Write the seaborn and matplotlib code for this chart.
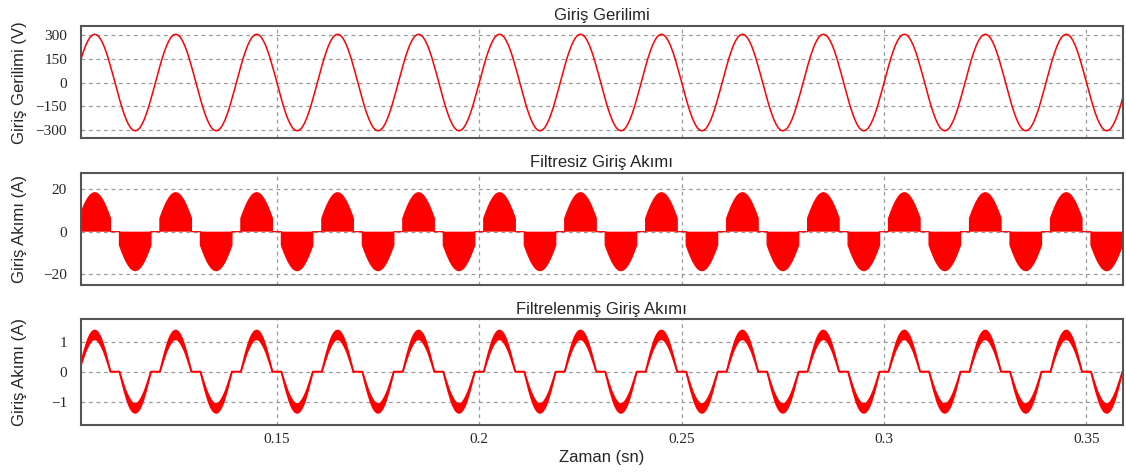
import numpy as np
import pandas as pd
import matplotlib
matplotlib.use("Agg")
import matplotlib.pyplot as plt
import seaborn as sns

# ---------------- data ----------------
period = 0.02                 # 50 Hz mains
first_peak = 0.1050           # time of the first voltage peak (s)
cycles = list(range(-1, 14))  # cycle indices covering the view

# one voltage cycle, phase -180..180 deg (step 10) around the peak
voltage_phase = list(range(-180, 181, 10))
voltage_cycle = [-305, -300, -287, -264, -234, -196, -153, -104, -53, 0,
                 53, 104, 153, 196, 234, 264, 287, 300, 305, 300, 287,
                 264, 234, 196, 153, 104, 53, 0, -53, -104, -153, -196,
                 -234, -264, -287, -300, -305]

# unfiltered current: positive lobe envelope, phase -70..70 deg (step 10)
raw_phase = list(range(-70, 71, 10))
raw_lobe = [6.3, 9.2, 11.8, 14.1, 15.9, 17.3, 18.1, 18.4, 18.1, 17.3,
            15.9, 14.1, 11.8, 9.2, 6.3]

# filtered current: positive lobe ripple band, phase -70..70 deg (step 7)
filt_phase = list(range(-70, 71, 7))
filt_upper = [0, 0.22, 0.43, 0.63, 0.81, 0.98, 1.12, 1.23, 1.31, 1.36, 1.38,
              1.36, 1.31, 1.23, 1.12, 0.98, 0.81, 0.63, 0.43, 0.22, 0]
filt_lower = [0, 0.17, 0.33, 0.49, 0.64, 0.76, 0.87, 0.96, 1.03, 1.07, 1.08,
              1.07, 1.03, 0.96, 0.87, 0.76, 0.64, 0.49, 0.33, 0.17, 0]

titles = ["Giriş Gerilimi", "Filtresiz Giriş Akımı", "Filtrelenmiş Giriş Akımı"]
ylabels = ["Giriş Gerilimi (V)", "Giriş Akımı (A)", "Giriş Akımı (A)"]
yticks = [[-300, -150, 0, 150, 300], [-20, 0, 20], [-1, 0, 1]]
ylims = [(-352, 357), (-25.2, 27.8), (-1.78, 1.75)]
xticks = [0.15, 0.2, 0.25, 0.3, 0.35]
xticklabels = ["0.15", "0.2", "0.25", "0.3", "0.35"]
xlim = (0.1016, 0.3589)
xlabel = "Zaman (sn)"

# ---------------- build series ----------------
def phase_to_t(tp, ph):
    return tp + np.asarray(ph, float) / 360.0 * period

# voltage
vt, vv = [], []
for k in cycles:
    tp = first_peak + k * period
    vt.append(phase_to_t(tp, voltage_phase[:-1]))
    vv.append(np.asarray(voltage_cycle[:-1], float))
volt = pd.DataFrame({"t": np.concatenate(vt), "v": np.concatenate(vv)})

# unfiltered current (lobes with vertical edges, zero between)
rt, rv = [], []
for k in cycles:
    tp = first_peak + k * period
    for centre, sign in ((tp, 1), (tp + period / 2, -1)):
        t = phase_to_t(centre, raw_phase)
        rt.append(np.r_[t[0], t, t[-1]])
        rv.append(sign * np.r_[0, raw_lobe, 0])
raw = pd.DataFrame({"t": np.concatenate(rt), "i": np.concatenate(rv)})

# filtered current band
ft, fu, fl = [], [], []
for k in cycles:
    tp = first_peak + k * period
    for centre, sign in ((tp, 1), (tp + period / 2, -1)):
        t = phase_to_t(centre, filt_phase)
        ft.append(t)
        fu.append(sign * np.asarray(filt_upper, float))
        fl.append(sign * np.asarray(filt_lower, float))
filt = pd.DataFrame({"t": np.concatenate(ft), "up": np.concatenate(fu),
                     "lo": np.concatenate(fl)})

# ---------------- plot ----------------
sns.set_style("white")
plt.rcParams["font.family"] = ["Liberation Sans", "DejaVu Sans"]

fig = plt.figure(figsize=(11.26, 4.72), dpi=100)
L, W = 0.0719, 0.925
positions = [[L, 0.707, W, 0.238], [L, 0.396, W, 0.238], [L, 0.0996, W, 0.224]]
axes = []
for i, pos in enumerate(positions):
    ax = fig.add_axes(pos, sharex=axes[0] if axes else None)
    axes.append(ax)

red = "#ff0000"
ax1, ax2, ax3 = axes
sns.lineplot(data=volt, x="t", y="v", ax=ax1, color=red, lw=1.1,
             estimator=None, sort=False)

ax2.fill_between(raw["t"], 0, raw["i"], color=red, lw=0)
sns.lineplot(data=raw, x="t", y="i", ax=ax2, color=red, lw=0.9,
             estimator=None, sort=False)

ax3.fill_between(filt["t"], filt["lo"], filt["up"], color=red, lw=0)
sns.lineplot(data=filt, x="t", y="up", ax=ax3, color=red, lw=1.2,
             estimator=None, sort=False)
sns.lineplot(data=filt, x="t", y="lo", ax=ax3, color=red, lw=1.2,
             estimator=None, sort=False)

serif = "Liberation Serif"
for i, ax in enumerate(axes):
    ax.set_xlim(*xlim)
    ax.set_ylim(*ylims[i])
    ax.set_yticks(yticks[i])
    ax.set_xticks(xticks)
    ax.set_axisbelow(True)
    ax.grid(True, ls=(0, (3, 3)), color="#9a9a9a", lw=0.9)
    ax.tick_params(length=0, labelsize=11, pad=10)
    for lab in ax.get_yticklabels():
        lab.set_fontfamily(serif)
    for s in ax.spines.values():
        s.set_color("#555555")
        s.set_linewidth(1.5)
    ax.set_title(titles[i], fontsize=12, pad=4)
    ax.set_ylabel(ylabels[i], fontsize=12)
    ax.yaxis.set_label_coords(-0.052, 0.5)
    ax.set_xlabel("")
    if i < 2:
        ax.tick_params(labelbottom=False)

ax3.set_xticklabels(xticklabels, fontfamily=serif, fontsize=11)
ax3.tick_params(axis="x", pad=6)
ax3.set_xlabel(xlabel, fontsize=12, labelpad=3)

fig.savefig("out.png", dpi=100)
